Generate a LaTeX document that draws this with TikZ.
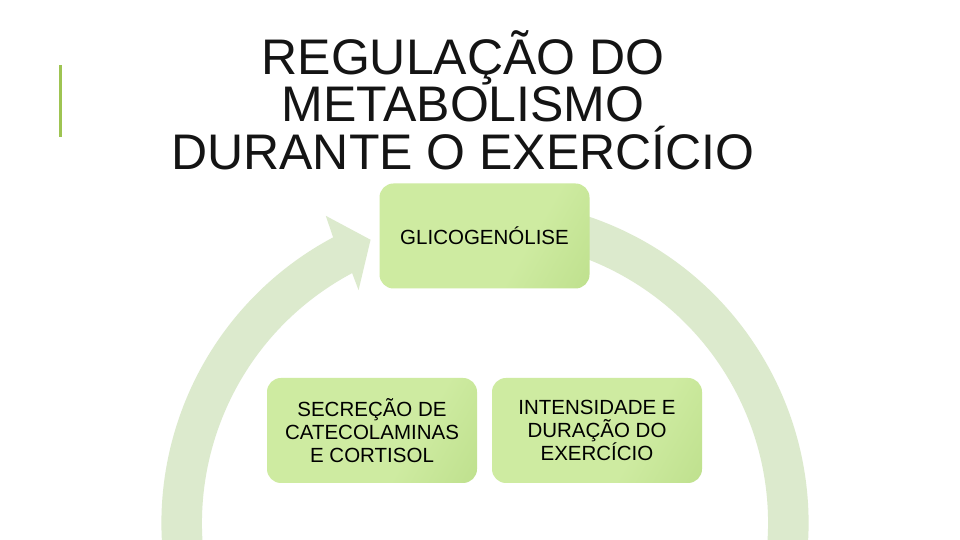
\documentclass[tikz,border=0pt]{standalone}
\usepackage{fontspec}
\setmainfont{Liberation Sans}
\definecolor{barcol}{RGB}{158,196,82}
\definecolor{arccol}{RGB}{220,234,205}
\definecolor{boxlight}{RGB}{206,235,161}
\definecolor{boxdark}{RGB}{180,217,128}
\definecolor{titlecol}{RGB}{20,20,20}
\pgfdeclarehorizontalshading{boxshade}{100bp}{color(0bp)=(boxlight); color(62bp)=(boxlight); color(100bp)=(boxdark)}
\tikzset{
  titleline/.style={anchor=base, text=titlecol, font=\fontsize{50}{50}\selectfont, inner sep=0pt},
  stepbox/.style={shading=boxshade, shading angle=-30, rounded corners=14pt,
    minimum width=210pt, minimum height=105pt, inner sep=0pt, align=center,
    font=\fontsize{20.5}{23}\selectfont, text=black},
}
\begin{document}
\begin{tikzpicture}
\useasboundingbox (0pt,0pt) rectangle (960pt,540pt);
\clip (0pt,0pt) rectangle (960pt,540pt);
\fill[white] (0pt,0pt) rectangle (960pt,540pt);
% accent bar
\fill[barcol] (59pt,403pt) rectangle (62pt,475pt);
% title
\node[titleline] (t1) at (463pt,465pt) {REGULAÇÃO DO};
\node[titleline] (t2) at (463pt,418pt) {METABOLISMO};
\node[titleline] (t3) at (463pt,370pt) {DURANTE O EXERCÍCIO};
% circular arrow
\begin{scope}[shift={(485pt,17pt)}]
\fill[arccol] (72:323.5pt) arc[start angle=72, end angle=-242, radius=323.5pt]
  -- (117.4:346pt) -- (112:305.5pt) -- (118.5:265pt) -- (118:283pt)
  arc[start angle=-242, end angle=72, radius=283pt] -- cycle;
\end{scope}
% boxes
\node[stepbox] (g) at (484.5pt,304pt) {GLICOGENÓLISE};
\node[stepbox] (s) at (372pt,109.5pt) {SECREÇÃO DE\\CATECOLAMINAS\\E CORTISOL};
\node[stepbox] (i) at (597pt,109.5pt) {INTENSIDADE E\\DURAÇÃO DO\\EXERCÍCIO};
\end{tikzpicture}
\end{document}
